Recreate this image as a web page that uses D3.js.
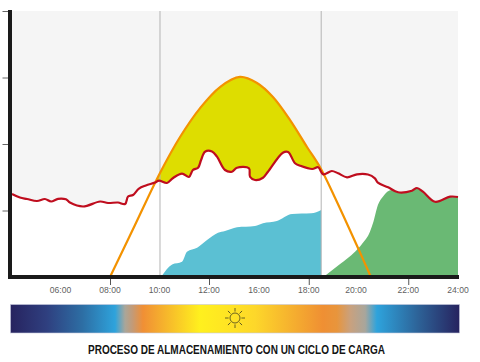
<!DOCTYPE html>
<html>
<head>
<meta charset="utf-8">
<script src="https://cdn.jsdelivr.net/npm/d3@7"></script>
<style>
  html, body { margin: 0; padding: 0; background: #fff; }
  svg { display: block; }
</style>
</head>
<body>
<div id="chart"></div>
<script>
// hours and levels
const demandHours = [4.04,4.36,4.65,5.05,5.37,5.62,5.9,6.22,6.38,6.91,7.6,7.92,8.32,8.61,8.73,8.93,9.17,9.45,9.82,9.98,10.3,10.55,10.91,11.19,11.35,11.56,11.68,11.84,12.24,12.64,13.28,13.84,14.24,15.2,15.28,15.68,16.16,16.36,16.96,17.17,17.45,17.65,18.14,18.38,18.58,18.93,19.18,19.54,19.94,20.38,20.66,20.78,21.19,21.59,22.15,22.35,22.59,23.08,23.68,24.0];
const demandValues = [124.8,119.5,117.3,114.3,117.3,113.5,117.6,116.8,112,106,113.5,111.3,112,109.8,121,123.3,133,137.6,142,145,141.4,148.9,155.6,150.4,160.9,164.4,175.9,188.4,188.7,180.9,160.9,158.3,164.4,163.5,150.8,145.9,149.3,158.3,186.9,188,171,167.4,162.4,165,154.4,159.4,155.9,149.9,154.4,154.1,148.4,141.8,134.9,127.4,129.8,133.8,128.3,113.2,120.8,120.3];

const solarHours = [8,9.01,10.02,10.83,11.64,12.88,14.48,15.84,16.56,17.25,17.93,18.45,19.06,19.98,20.5];
const solarValues = [0,78.2,156.4,210.5,254,285.7,300.8,291.7,270.7,236,195.5,165.4,118.8,43.6,0];

const chargeHours = [10.06,10.51,10.91,11.11,11.52,11.92,12.72,13.28,14.24,15.68,16.16,16.72,17.33,18.1,18.5];
const chargeValues = [0,18.8,23,38,44,55.6,66.6,69.2,74.7,76.7,80.8,84.2,94.7,95.8,100.8];

const dischargeHours = [18.59,19.26,19.86,20.14,20.46,20.6,20.78,20.98,21.33,21.59,22.15,22.35,22.59,23.08,23.68,24];
const dischargeValues = [0,19.5,38,49.6,68.1,83.2,108.3,120.8,130.8,127.4,129.8,133.8,128.3,113.2,120.8,120.3];

const labelHours = [6,8,10,12,16,18,20,22,24];
const tickHours = [8,12,18,22];
const levelTicks = [100,200,300,400];
const markerHours = [10.02,18.5];

const gradientOffsets = [0,0.08,0.16,0.233,0.255,0.272,0.295,0.422,0.5,0.545,0.696,0.727,0.757,0.79,0.816,0.91,1];
const gradientColors = ["#27235f","#2f3f7f","#2d6ea4","#2ea3dc","#a9a69a","#c49a76","#f08f35","#fff01e","#ffe125","#fdd72a","#ef8f33","#e8953c","#c9a17e","#a8a69c","#2ea3dc","#2d6196","#27235f"];

const title = "PROCESO DE ALMACENAMIENTO CON UN CICLO DE CARGA";

const width = 480;
const height = 362;

const svg = d3.select("#chart")
  .append("svg")
  .attr("width", width)
  .attr("height", height);

// the labels go 12:00 then 16:00 at one step, so the time axis is piecewise
const x = d3.scaleLinear()
  .domain([4, 12, 16, 24])
  .range([11, 209, 259, 458]);

const y = d3.scaleLinear()
  .domain([0, 400])
  .range([277, 11]);

const rows = (hours, values) => hours.map((h, i) => [h, values[i]]);

const area = d3.area()
  .x(d => x(d[0]))
  .y0(y(0))
  .y1(d => y(d[1]))
  .curve(d3.curveMonotoneX);

const smoothArea = d3.area()
  .x(d => x(d[0]))
  .y0(y(0))
  .y1(d => y(d[1]))
  .curve(d3.curveCatmullRom);

const line = d3.line()
  .x(d => x(d[0]))
  .y(d => y(d[1]))
  .curve(d3.curveCatmullRom);

// plot background
svg.append("rect")
  .attr("x", x(4))
  .attr("y", y(400))
  .attr("width", x(24) - x(4))
  .attr("height", y(0) - y(400))
  .attr("fill", "#f5f5f5");

// yellow shows only where the sun curve rises above the red line
svg.append("path")
  .attr("d", smoothArea(rows(solarHours, solarValues)))
  .attr("fill", "#dedd00");

svg.append("path")
  .attr("d", smoothArea(rows(demandHours, demandValues)))
  .attr("fill", "#fff");

svg.append("path")
  .attr("d", area(rows(chargeHours, chargeValues)))
  .attr("fill", "#5bc0d3");

svg.append("path")
  .attr("d", area(rows(dischargeHours, dischargeValues)))
  .attr("fill", "#6ab974");

svg.selectAll(".marker")
  .data(markerHours)
  .enter().append("line")
  .attr("class", "marker")
  .attr("x1", d => x(d))
  .attr("x2", d => x(d))
  .attr("y1", y(400))
  .attr("y2", y(0))
  .attr("stroke", "#b4b4b4")
  .attr("stroke-width", 1);

svg.append("path")
  .attr("d", line(rows(solarHours, solarValues)))
  .attr("fill", "none")
  .attr("stroke", "#f39200")
  .attr("stroke-width", 2.2);

svg.append("path")
  .attr("d", line(rows(demandHours, demandValues)))
  .attr("fill", "none")
  .attr("stroke", "#bf0d1e")
  .attr("stroke-width", 2.2);

// axes
const tickAxis = svg.append("g")
  .attr("transform", `translate(0,${y(0) + 2})`)
  .call(d3.axisBottom(x).tickValues(tickHours).tickSize(6).tickFormat(""));
tickAxis.select(".domain").remove();
tickAxis.selectAll("line").attr("stroke", "#555");

const labelAxis = svg.append("g")
  .attr("transform", `translate(0,${y(0) + 2})`)
  .call(d3.axisBottom(x)
    .tickValues(labelHours)
    .tickSize(0)
    .tickPadding(6)
    .tickFormat(d => d3.format("02")(d) + ":00"));
labelAxis.select(".domain").remove();
labelAxis.selectAll("text")
  .attr("font-family", "Liberation Sans")
  .attr("font-size", 8.6)
  .attr("fill", "#5f5f5f")
  .attr("y", 8)
  .attr("dx", d => d === 20 ? -3 : -0.5);

const levelAxis = svg.append("g")
  .attr("transform", "translate(8,0)")
  .call(d3.axisLeft(y).tickValues(levelTicks).tickSize(5.5).tickFormat(""));
levelAxis.select(".domain").remove();
levelAxis.selectAll("line").attr("stroke", "#666");

svg.append("line")
  .attr("x1", 10)
  .attr("x2", 10)
  .attr("y1", y(400) - 1)
  .attr("y2", y(0) + 2)
  .attr("stroke", "#1a1a1a")
  .attr("stroke-width", 4);

svg.append("line")
  .attr("x1", 8)
  .attr("x2", x(24) + 1)
  .attr("y1", y(0))
  .attr("y2", y(0))
  .attr("stroke", "#1a1a1a")
  .attr("stroke-width", 4);

// day and night strip
const gradient = svg.append("defs")
  .append("linearGradient")
  .attr("id", "day");

gradient.selectAll("stop")
  .data(gradientOffsets)
  .enter().append("stop")
  .attr("offset", d => d)
  .attr("stop-color", (d, i) => gradientColors[i]);

svg.append("rect")
  .attr("x", 10.5)
  .attr("y", 304.5)
  .attr("width", 449)
  .attr("height", 28.5)
  .attr("fill", "url(#day)")
  .attr("stroke", "#c5c8dc")
  .attr("stroke-width", 0.6);

// sun icon
const sun = svg.append("g")
  .attr("transform", "translate(235,318)")
  .attr("fill", "none")
  .attr("stroke", "#5a5320")
  .attr("stroke-width", 0.9);

sun.append("circle").attr("r", 5);

sun.selectAll("line")
  .data(d3.range(8))
  .enter().append("line")
  .attr("y1", 6.4)
  .attr("y2", 10)
  .attr("transform", d => `rotate(${d * 45})`);

svg.append("text")
  .attr("x", 88)
  .attr("y", 353.5)
  .attr("font-family", "Liberation Sans")
  .attr("font-weight", "bold")
  .attr("font-size", 12.5)
  .attr("fill", "#141414")
  .attr("textLength", 297)
  .attr("lengthAdjust", "spacingAndGlyphs")
  .text(title);
</script>
</body>
</html>
